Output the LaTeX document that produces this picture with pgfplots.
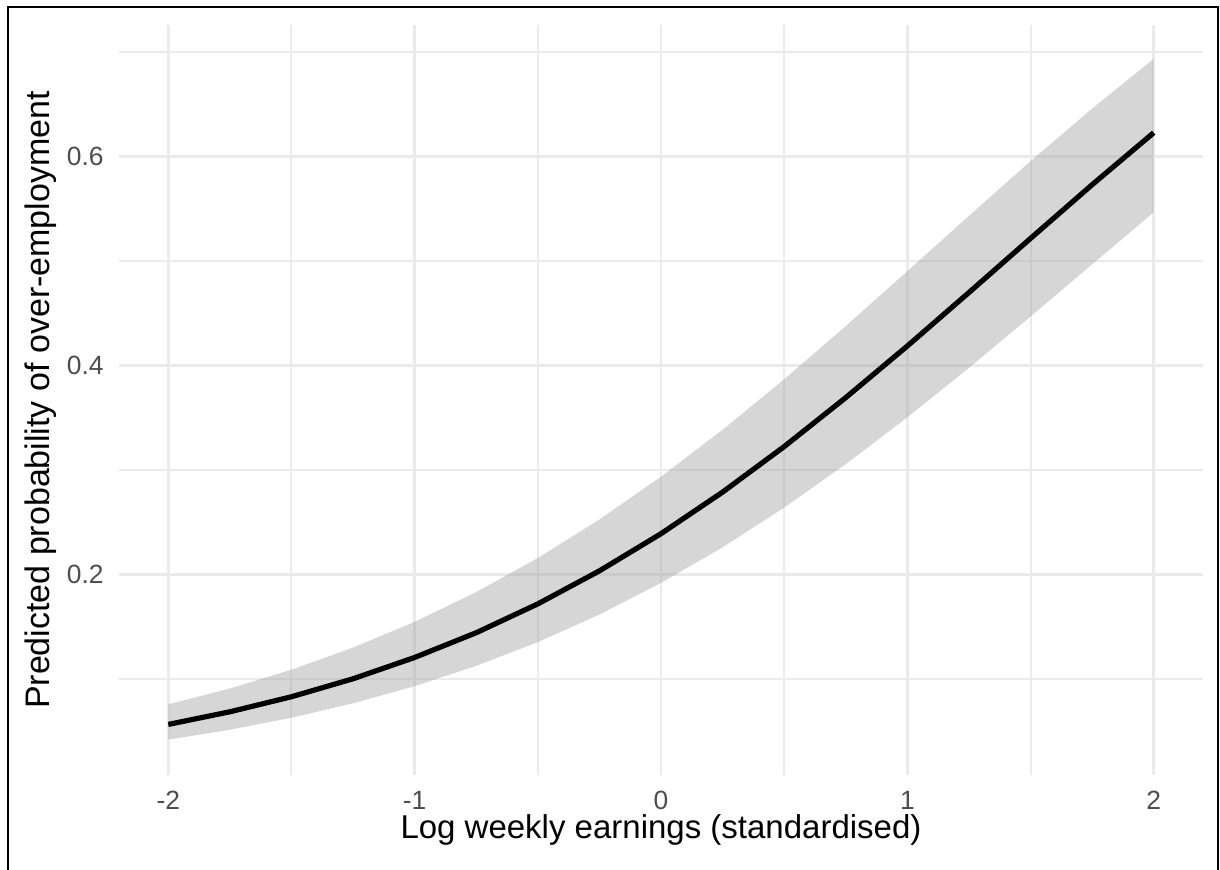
\documentclass[border=0pt]{standalone}
\usepackage{fontspec}
\setmainfont{Liberation Sans}
\usepackage{pgfplots}
\pgfplotsset{compat=1.18}
\usepackage{pgfplotstable}
\usepgfplotslibrary{fillbetween}
\definecolor{gridc}{RGB}{235,235,235}
\definecolor{tickc}{RGB}{77,77,77}
\definecolor{ribc}{RGB}{153,153,153}

\pgfplotstableread{
x fit lo hi
-2.00 0.0564 0.0418 0.0756
-1.75 0.0685 0.0513 0.0908
-1.50 0.0829 0.0628 0.1088
-1.25 0.1001 0.0766 0.1300
-1.00 0.1205 0.0930 0.1546
-0.75 0.1442 0.1125 0.1831
-0.50 0.1718 0.1352 0.2157
-0.25 0.2034 0.1616 0.2526
0.00 0.2390 0.1919 0.2936
0.25 0.2788 0.2260 0.3385
0.50 0.3224 0.2640 0.3868
0.75 0.3693 0.3056 0.4378
1.00 0.4187 0.3504 0.4903
1.25 0.4699 0.3978 0.5433
1.50 0.5217 0.4469 0.5956
1.75 0.5731 0.4969 0.6460
2.00 0.6229 0.5467 0.6936
}\datatab

\begin{document}
\begin{tikzpicture}
\draw[line width=1pt] (4.15pt,0) -- (4.15pt,431.5pt) -- (609pt,431.5pt) -- (609pt,0);
\begin{axis}[
  at={(59.5pt,47.5pt)}, anchor=south west,
  scale only axis, width=542pt, height=375pt,
  xmin=-2.2, xmax=2.2, ymin=0.008, ymax=0.726,
  xtick={-2,-1,0,1,2}, xticklabels={-2,-1,0,1,2},
  ytick={0.2,0.4,0.6}, yticklabels={0.2,0.4,0.6},
  minor xtick={-1.5,-0.5,0.5,1.5}, minor ytick={0.1,0.3,0.5,0.7},
  grid=both,
  major grid style={draw=gridc, line width=1.3pt},
  minor grid style={draw=gridc, line width=1.0pt},
  axis line style={draw=none},
  major tick length=0pt, minor tick length=0pt,
  tick label style={font=\fontsize{13.2}{15}\selectfont, text=tickc, inner sep=0pt},
  xticklabel shift=8pt, yticklabel shift=7.5pt,
  xlabel={Log weekly earnings (standardised)},
  ylabel={Predicted probability of over-employment},
  label style={text=black, inner sep=0pt},
  xlabel style={font=\fontsize{16.5}{20}\selectfont, at={(axis description cs:0.5,-0.085)}, anchor=base},
  ylabel style={font=\fontsize{17}{20}\selectfont, at={(axis description cs:-0.0637,0.5)}, anchor=base},
]
\addplot[name path=hi, draw=none, forget plot] table[x=x,y=hi]{\datatab};
\addplot[name path=lo, draw=none, forget plot] table[x=x,y=lo]{\datatab};
\addplot[fill=ribc, fill opacity=0.4, draw=none] fill between[of=hi and lo];
\addplot[black, line width=2.6pt] table[x=x,y=fit]{\datatab};
\end{axis}
\pgfresetboundingbox
\path[use as bounding box] (0,0) rectangle (610pt,435pt);
\end{tikzpicture}
\end{document}
